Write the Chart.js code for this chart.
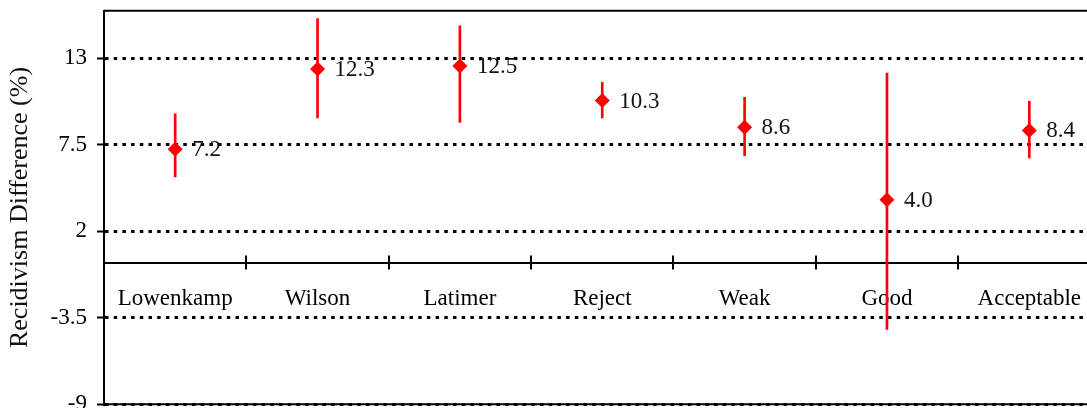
<!DOCTYPE html>
<html>
<head>
<meta charset="utf-8">
<title>Recidivism Difference</title>
<script src="https://cdn.jsdelivr.net/npm/chart.js@4/dist/chart.umd.min.js"></script>
<style>
  html, body { margin: 0; padding: 0; background: #fff; overflow: hidden; }
  #chart { display: block; margin-top: -13px; }
</style>
</head>
<body>
<canvas id="chart" width="1108" height="441"></canvas>
<script>
// data
const categories = ["Lowenkamp", "Wilson", "Latimer", "Reject", "Weak", "Good", "Acceptable"];
const values = [7.2, 12.3, 12.5, 10.3, 8.6, 4.0, 8.4];
const lows = [5.45, 9.2, 8.9, 9.2, 6.8, -4.25, 6.65];
const highs = [9.45, 15.5, 15.05, 11.45, 10.5, 12.05, 10.25];
const yTicks = [-9, -3.5, 2, 7.5, 13];

const FONT = "'Liberation Serif', 'Times New Roman', serif";
const RED = "#ff0000";

// top / bottom frame of the plot
const framePlugin = {
  id: "frame",
  afterDraw(chart) {
    const { ctx, chartArea } = chart;
    ctx.save();
    ctx.strokeStyle = "#000";
    ctx.lineWidth = 2;
    ctx.beginPath();
    ctx.moveTo(chartArea.left, chartArea.top);
    ctx.lineTo(chartArea.right, chartArea.top);
    ctx.moveTo(chartArea.left, chartArea.bottom);
    ctx.lineTo(chartArea.right, chartArea.bottom);
    ctx.stroke();
    ctx.restore();
  }
};

// tick marks crossing the zero line, between categories
const crossTicks = {
  id: "crossTicks",
  afterDraw(chart) {
    const { ctx, scales } = chart;
    const x = scales.x, y0 = scales.y.getPixelForValue(0);
    ctx.save();
    ctx.strokeStyle = "#000";
    ctx.lineWidth = 2;
    ctx.beginPath();
    for (let i = 1; i < categories.length; i++) {
      const px = Math.round((x.getPixelForValue(i - 1) + x.getPixelForValue(i)) / 2);
      ctx.moveTo(px, y0 - 7);
      ctx.lineTo(px, y0 + 7);
    }
    ctx.stroke();
    ctx.restore();
  }
};

// value labels right of each diamond
const valueLabels = {
  id: "valueLabels",
  afterDatasetsDraw(chart) {
    const { ctx } = chart;
    const meta = chart.getDatasetMeta(1);
    ctx.save();
    ctx.font = "23px " + FONT;
    ctx.fillStyle = "#111";
    ctx.textAlign = "left";
    ctx.textBaseline = "middle";
    meta.data.forEach((pt, i) => {
      ctx.fillText(values[i].toFixed(1), pt.x + 17, pt.y + 1);
    });
    ctx.restore();
  }
};

new Chart(document.getElementById("chart"), {
  data: {
    labels: categories,
    datasets: [
      {
        type: "bar",
        data: lows.map((l, i) => [l, highs[i]]),
        backgroundColor: RED,
        barThickness: 2,
        order: 2
      },
      {
        type: "line",
        data: values,
        showLine: false,
        pointStyle: "rectRot",
        pointRadius: 7.5,
        pointBackgroundColor: RED,
        pointBorderColor: RED,
        pointBorderWidth: 0,
        order: 1
      }
    ]
  },
  options: {
    responsive: false,
    animation: false,
    devicePixelRatio: 1,
    layout: { padding: { left: 0, right: 0, top: 10, bottom: 9 } },
    plugins: {
      legend: { display: false },
      tooltip: { enabled: false }
    },
    scales: {
      x: {
        type: "category",
        position: { y: 0 },
        offset: true,
        grid: { display: false, drawTicks: false },
        border: { display: true, color: "#000", width: 2 },
        ticks: {
          padding: 23,
          color: "#000",
          maxRotation: 0,
          autoSkip: false,
          font: { family: FONT, size: 23 }
        }
      },
      y: {
        min: -9,
        max: 16,
        afterBuildTicks: scale => { scale.ticks = yTicks.map(v => ({ value: v })); },
        afterFit: scale => { scale.width = 104; },
        grid: {
          color: "#000",
          lineWidth: 3,
          tickLength: 7,
          tickColor: "#000",
          tickWidth: 2
        },
        border: { display: true, color: "#000", width: 2, dash: [3.5, 5.2] },
        ticks: {
          padding: 10,
          color: "#000",
          font: { family: FONT, size: 23 },
          callback: v => String(v)
        },
        title: {
          display: true,
          text: "Recidivism Difference (%)",
          color: "#111",
          font: { family: FONT, size: 26 },
          padding: { top: 5, bottom: 0 }
        }
      }
    }
  },
  plugins: [framePlugin, crossTicks, valueLabels]
});
</script>
</body>
</html>
